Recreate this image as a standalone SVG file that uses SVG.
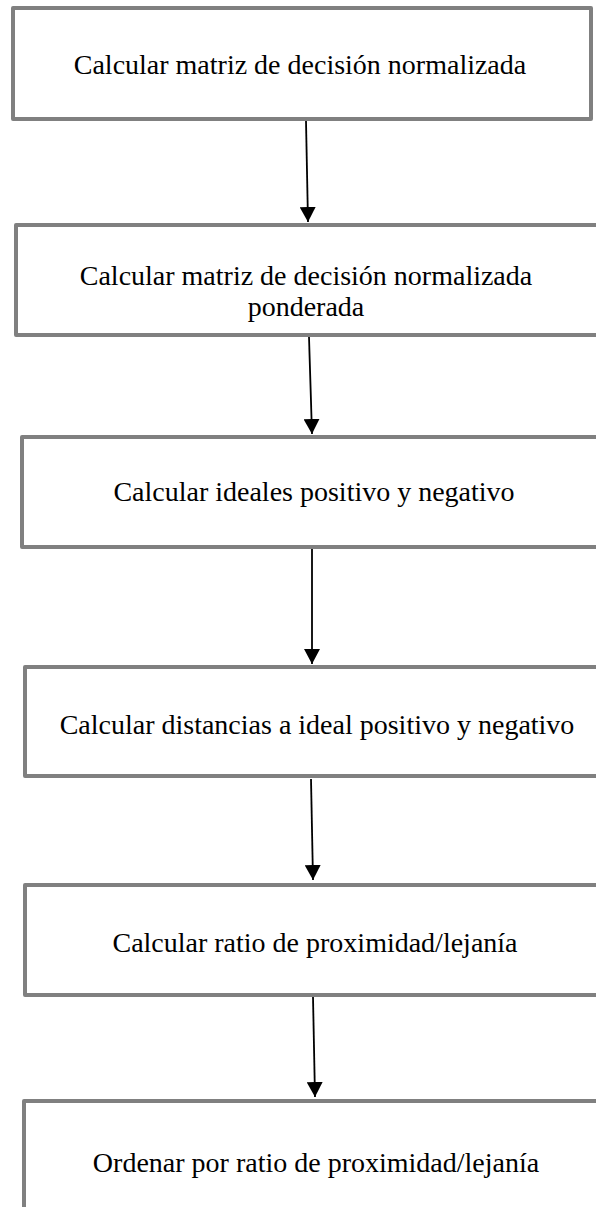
<svg xmlns="http://www.w3.org/2000/svg" width="596" height="1207" viewBox="0 0 596 1207">
<style>
.box{fill:#fff;stroke:#808080;stroke-width:4;stroke-linejoin:round}
.lbl{font-family:"Liberation Serif","Times New Roman",serif;font-size:28px;fill:#000;text-anchor:middle}
.arr{stroke:#000;stroke-width:1.8;fill:none;marker-end:url(#ah)}
</style>
<defs>
<marker id="ah" markerUnits="userSpaceOnUse" markerWidth="16" markerHeight="16" refX="15" refY="8" orient="auto">
<path d="M0,0 L15,8 L0,16 Z" fill="#000"/>
</marker>
</defs>
<rect width="596" height="1207" fill="#fff"/>
<g id="n1"><rect class="box" x="13" y="8" width="578" height="111"/><text class="lbl" x="300" y="74">Calcular matriz de decisión normalizada</text></g>
<g id="n2"><rect class="box" x="16" y="225" width="590" height="110"/><text class="lbl" x="306" y="285">Calcular matriz de decisión normalizada</text><text class="lbl" x="306" y="316">ponderada</text></g>
<g id="n3"><rect class="box" x="22" y="437" width="590" height="110"/><text class="lbl" x="314" y="501">Calcular ideales positivo y negativo</text></g>
<g id="n4"><rect class="box" x="25" y="667" width="590" height="109"/><text class="lbl" x="317" y="734">Calcular distancias a ideal positivo y negativo</text></g>
<g id="n5"><rect class="box" x="25" y="885" width="590" height="110"/><text class="lbl" x="315" y="952">Calcular ratio de proximidad/lejanía</text></g>
<g id="n6"><rect class="box" x="24" y="1101" width="590" height="200"/><text class="lbl" x="316" y="1172">Ordenar por ratio de proximidad/lejanía</text></g>
<g id="connectors">
<line class="arr" x1="306" y1="121" x2="308" y2="222"/>
<line class="arr" x1="309" y1="337" x2="312" y2="434"/>
<line class="arr" x1="312" y1="549" x2="312" y2="664"/>
<line class="arr" x1="311" y1="779" x2="313" y2="880"/>
<line class="arr" x1="313" y1="997" x2="315" y2="1097"/>
</g>
</svg>
